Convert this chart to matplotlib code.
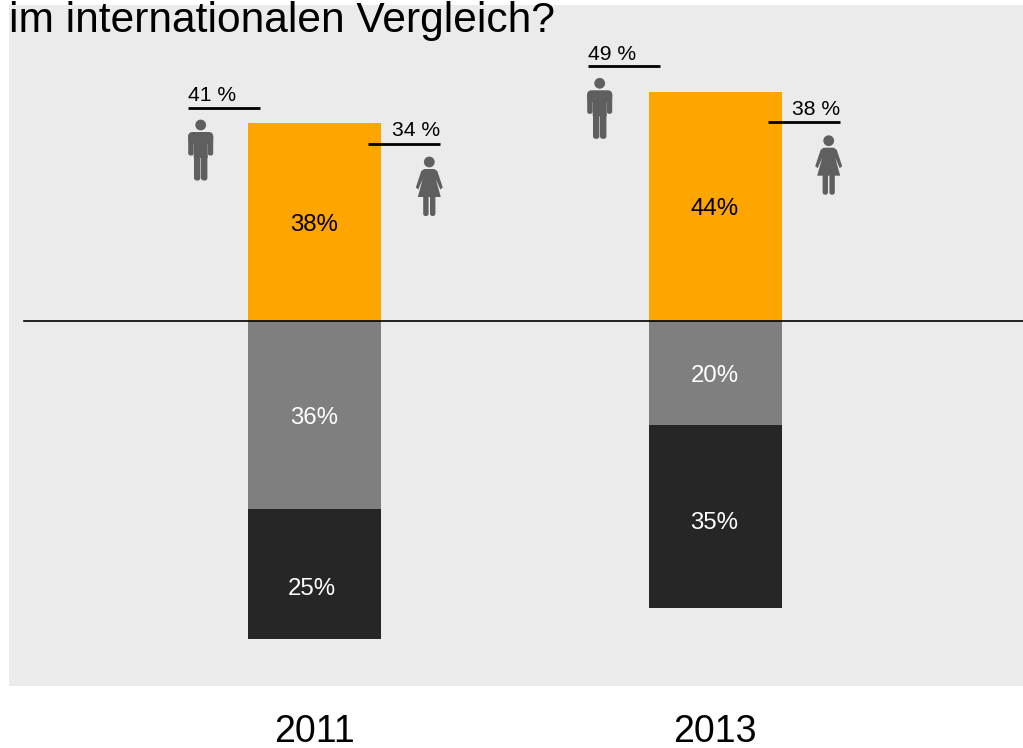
import matplotlib
matplotlib.use('Agg')

import matplotlib.pyplot as plt
import numpy as np
from matplotlib.patches import Circle, FancyBboxPatch, Polygon
from matplotlib.transforms import Affine2D

plt.rcParams['font.family'] = ['Liberation Sans', 'DejaVu Sans']

W, H = 1023, 748

# data
years = ['2011', '2013']
top_orange = [38, 44]
mid_grey = [36, 20]
low_dark = [25, 35]
men = [41, 49]
women = [34, 38]
title = 'im internationalen Vergleich?'

fig = plt.figure(figsize=(W / 100, H / 100), dpi=100, facecolor='white')
ax = fig.add_axes([9 / W, 1 - 686 / H, (W - 9) / W, 681 / H], facecolor='#ebebeb')

x = np.arange(len(years))
orange = np.array(top_orange)
grey = np.array(mid_grey)
dark = np.array(low_dark)
ax.bar(x, orange, width=0.332, color='#ffa500')
ax.bar(x, -grey, width=0.332, color='#7f7f7f')
ax.bar(x, -dark, bottom=-grey, width=0.332, color='#262626')

ax.set_xlim(-0.763, 1.769)
ax.set_ylim(-70.06, 60.65)


def bar_text(i, mid, value, color, dx=-0.5, dy=-3):
    # the labels sit a little off the bar centres, offsets are in points
    ax.annotate(f'{value}%', (x[i], mid), xytext=(dx * 0.72, dy * 0.72),
                textcoords='offset points', ha='center', va='center',
                fontsize=17.3, color=color)


for i in range(len(years)):
    bar_text(i, orange[i] / 2, orange[i], 'black')
    bar_text(i, -grey[i] / 2, grey[i], 'white')
low_off = [(-3, -15), (-0.5, -7)]
for i in range(len(years)):
    bar_text(i, -grey[i] - dark[i] / 2, dark[i], 'white', *low_off[i])

for s in ax.spines.values():
    s.set_visible(False)
ax.set_yticks([])
ax.set_xticks(x)
ax.set_xticklabels(years, fontsize=27)
ax.tick_params(axis='x', length=0, pad=20)

# everything below is placed in picture pixels
px = Affine2D().scale(1 / W, -1 / H).translate(0, 1) + fig.transFigure
ICON = '#5f5f5f'


def add(patch):
    patch.set_transform(px)
    patch.set_clip_on(False)
    fig.add_artist(patch)


def rounded(x0, y0, w, h, r=2.2):
    add(FancyBboxPatch((x0 + r, y0 + r), w - 2 * r, h - 2 * r,
                       boxstyle=f'round,pad={r}', fc=ICON, ec='none'))


def man(cx, cy):
    add(Circle((cx, cy), 5.4, fc=ICON, ec='none'))
    rounded(cx - 12.5, cy + 7, 25, 12, r=4.5)
    rounded(cx - 12.5, cy + 9, 5.4, 21.5)
    rounded(cx + 7.1, cy + 9, 5.4, 21.5)
    rounded(cx - 7, cy + 9, 14, 24, r=0.5)
    rounded(cx - 6.7, cy + 28, 6.4, 27.5, r=2.6)
    rounded(cx + 0.3, cy + 28, 6.4, 27.5, r=2.6)


def woman(cx, cy):
    add(Circle((cx, cy), 5.4, fc=ICON, ec='none'))
    add(Polygon([(cx - 5, cy + 7), (cx + 5, cy + 7), (cx + 8, cy + 9),
                 (cx + 13.5, cy + 25.5), (cx + 11, cy + 27.5), (cx + 6.5, cy + 17),
                 (cx + 11.5, cy + 35), (cx - 11.5, cy + 35), (cx - 6.5, cy + 17),
                 (cx - 11, cy + 27.5), (cx - 13.5, cy + 25.5), (cx - 8, cy + 9)],
                closed=True, fc=ICON, ec='none'))
    rounded(cx - 6.1, cy + 33, 5.4, 21, r=2.4)
    rounded(cx + 0.7, cy + 33, 5.4, 21, r=2.4)


def rule(x0, x1, y):
    fig.add_artist(plt.Line2D([x0, x1], [y, y], transform=px, color='black',
                              lw=2.0, solid_capstyle='butt'))


man_spots = [(200.7, 125), (599.7, 83.3)]
woman_spots = [(429.3, 162), (828.7, 140.7)]
man_rules = [(188, 260, 108), (588, 660, 66)]
woman_rules = [(368, 440, 144), (768, 840, 122)]
man_text = [(188.5, 101), (588, 60)]
woman_text = [(392, 136), (791.5, 115)]

for i in range(len(years)):
    man(*man_spots[i])
    woman(*woman_spots[i])
    rule(*man_rules[i])
    rule(*woman_rules[i])
    fig.text(man_text[i][0], man_text[i][1], f'{men[i]} %', transform=px,
             fontsize=15.2, va='baseline', color='black')
    fig.text(woman_text[i][0], woman_text[i][1], f'{women[i]} %', transform=px,
             fontsize=15.2, va='baseline', color='black')

# baseline across the panel
fig.add_artist(plt.Line2D([24, W], [321, 321], transform=px, color='black', lw=1.2))

fig.text(9, 32, title, transform=px, fontsize=30.6, va='baseline', color='black')

fig.savefig('out.png', dpi=100, facecolor='white')
